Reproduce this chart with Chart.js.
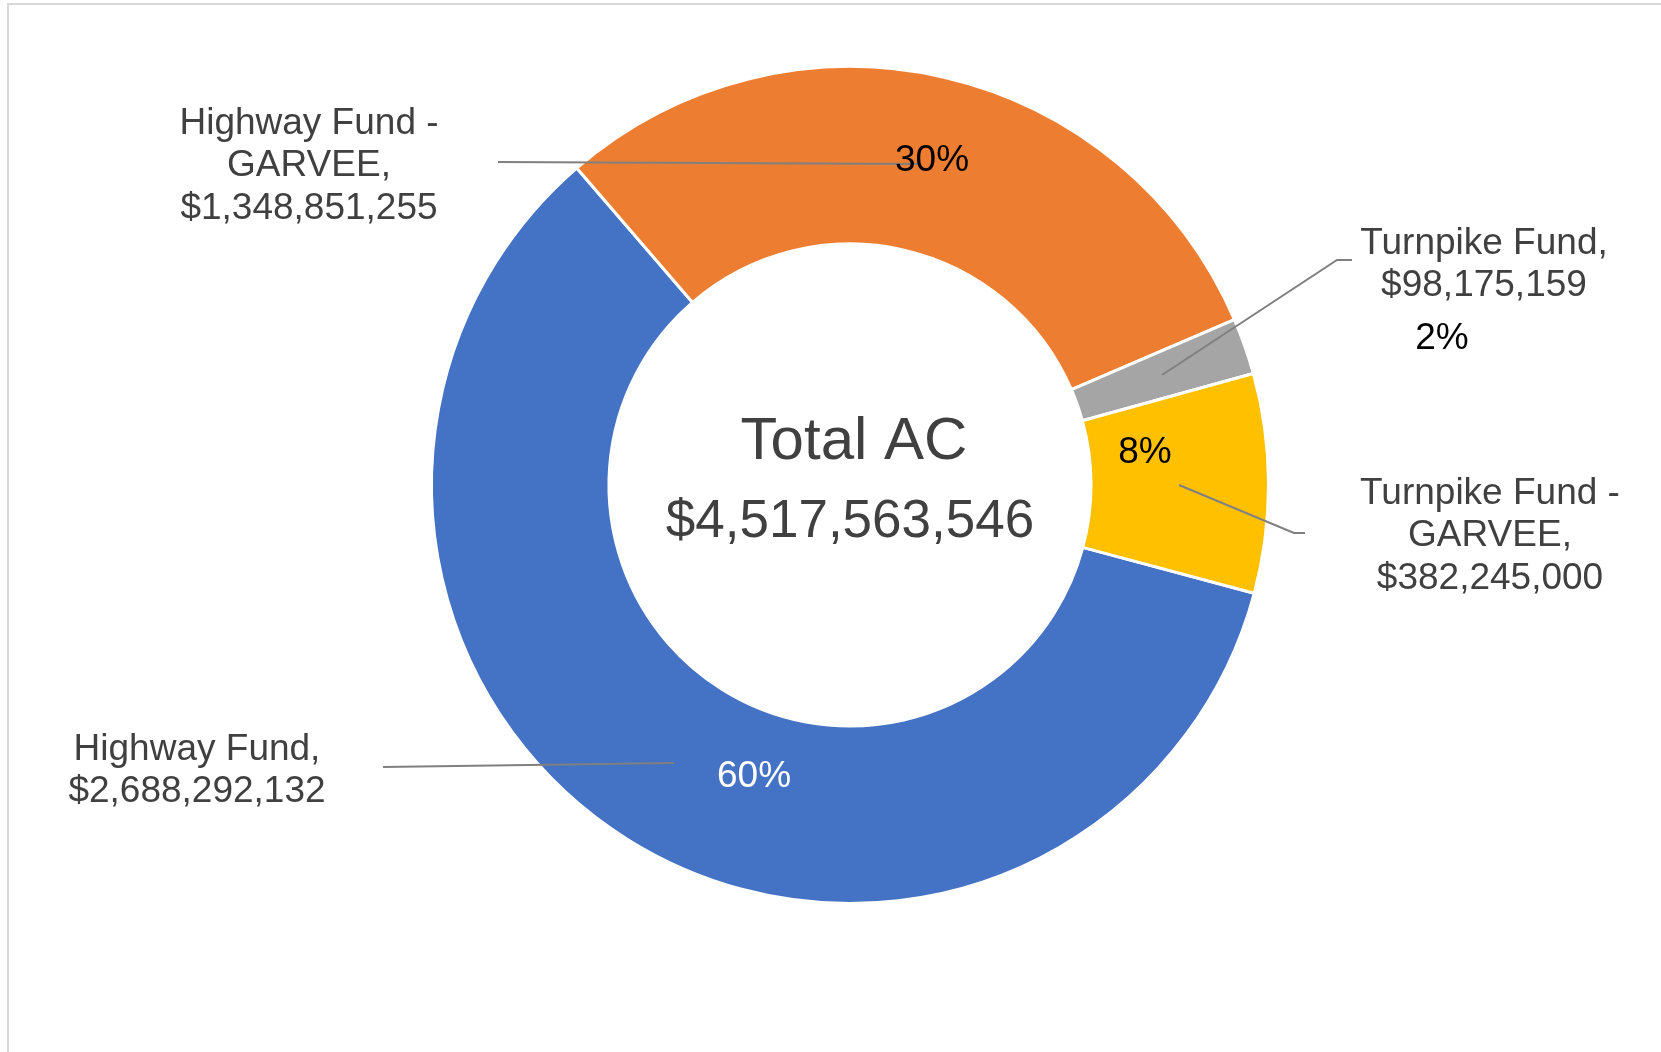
<!DOCTYPE html>
<html>
<head>
<meta charset="utf-8">
<script src="https://cdn.jsdelivr.net/npm/chart.js@4.4.1/dist/chart.umd.min.js"></script>
<style>
    html, body { margin: 0; padding: 0; background: #fff; overflow: hidden; }
    #wrap { position: relative; width: 1661px; height: 1052px; }
    #frame {
        position: absolute; left: 7px; top: 3px; width: 1700px; height: 1100px;
        border-left: 2px solid #d9d9d9; border-top: 2px solid #d9d9d9;
    }
    #chart { position: absolute; left: 0; top: 0; }
</style>
</head>
<body>
<div id="wrap">
    <div id="frame"></div>
    <canvas id="chart" width="1661" height="1052"></canvas>
</div>
<script>
// Dados do gráfico
const categorias = ['Highway Fund', 'Highway Fund - GARVEE', 'Turnpike Fund', 'Turnpike Fund - GARVEE'];
const valores = [2688292132, 1348851255, 98175159, 382245000];
const cores = ['#4472C4', '#ED7D31', '#A5A5A5', '#FFC000'];

// Quebras de linha dos rótulos (o valor vai na última linha)
const linhasRotulo = [
    ['Highway Fund,'],
    ['Highway Fund -', 'GARVEE,'],
    ['Turnpike Fund,'],
    ['Turnpike Fund -', 'GARVEE,']
];
const tituloCentro = 'Total AC';

const formatarDolar = (v) => '$' + v.toLocaleString('en-US');

// Posições dos rótulos, relativas ao centro da rosca (dx, dy)
const posRotulo = [
    { x: -653, y: 286 },
    { x: -541, y: -319 },
    { x: 634, y: -220 },
    { x: 640, y: 51 }
];
const posPercent = [
    { x: -96, y: 292, cor: '#ffffff' },
    { x: 82, y: -324, cor: '#000000' },
    { x: 592, y: -146, cor: '#000000' },
    { x: 295, y: -32, cor: '#000000' }
];
// Linhas de chamada (pontos relativos ao centro)
const linhasChamada = [
    [[-467, 282], [-176, 278]],
    [[-352, -323], [70, -321]],
    [[502, -225], [487, -225], [312, -110]],
    [[455, 48], [444, 48], [329, 0]]
];

const fonte = "'Liberation Sans', Arial, sans-serif";

const rotulosPlugin = {
    id: 'rotulos',
    afterDraw(chart) {
        const ctx = chart.ctx;
        const arc = chart.getDatasetMeta(0).data[0];
        const cx = arc.x, cy = arc.y;
        const total = valores.reduce((a, b) => a + b, 0);

        ctx.save();

        // linhas de chamada
        ctx.strokeStyle = '#808080';
        ctx.lineWidth = 2;
        linhasChamada.forEach(pts => {
            ctx.beginPath();
            pts.forEach((p, i) => {
                if (i === 0) ctx.moveTo(cx + p[0], cy + p[1]);
                else ctx.lineTo(cx + p[0], cy + p[1]);
            });
            ctx.stroke();
        });

        ctx.textAlign = 'center';
        ctx.textBaseline = 'middle';

        // percentuais
        ctx.font = '37px ' + fonte;
        valores.forEach((v, i) => {
            const pct = Math.round(v / total * 100) + '%';
            ctx.fillStyle = posPercent[i].cor;
            ctx.fillText(pct, cx + posPercent[i].x, cy + posPercent[i].y);
        });

        // rótulos das categorias
        ctx.fillStyle = '#404040';
        ctx.font = '37px ' + fonte;
        valores.forEach((v, i) => {
            const linhas = linhasRotulo[i].concat([formatarDolar(v)]);
            const alturaLinha = 42.5;
            const y0 = cy + posRotulo[i].y - (linhas.length - 1) * alturaLinha / 2;
            linhas.forEach((t, j) => {
                ctx.fillText(t, cx + posRotulo[i].x, y0 + j * alturaLinha);
            });
        });

        // texto central
        ctx.font = '60px ' + fonte;
        ctx.fillText(tituloCentro, cx + 4, cy - 43);
        ctx.font = '53px ' + fonte;
        ctx.fillText(formatarDolar(total), cx, cy + 37);

        ctx.restore();
    }
};

new Chart(document.getElementById('chart'), {
    type: 'doughnut',
    data: {
        labels: categorias,
        datasets: [{
            data: valores,
            backgroundColor: cores,
            borderColor: '#ffffff',
            borderWidth: 3,
            hoverOffset: 0,
            offset: 0
        }]
    },
    options: {
        responsive: false,
        animation: false,
        rotation: 105,
        cutout: '57.6%',
        layout: {
            padding: { left: 430, right: 391, top: 65, bottom: 147 }
        },
        plugins: {
            legend: { display: false },
            tooltip: { enabled: false }
        }
    },
    plugins: [rotulosPlugin]
});
</script>
</body>
</html>
